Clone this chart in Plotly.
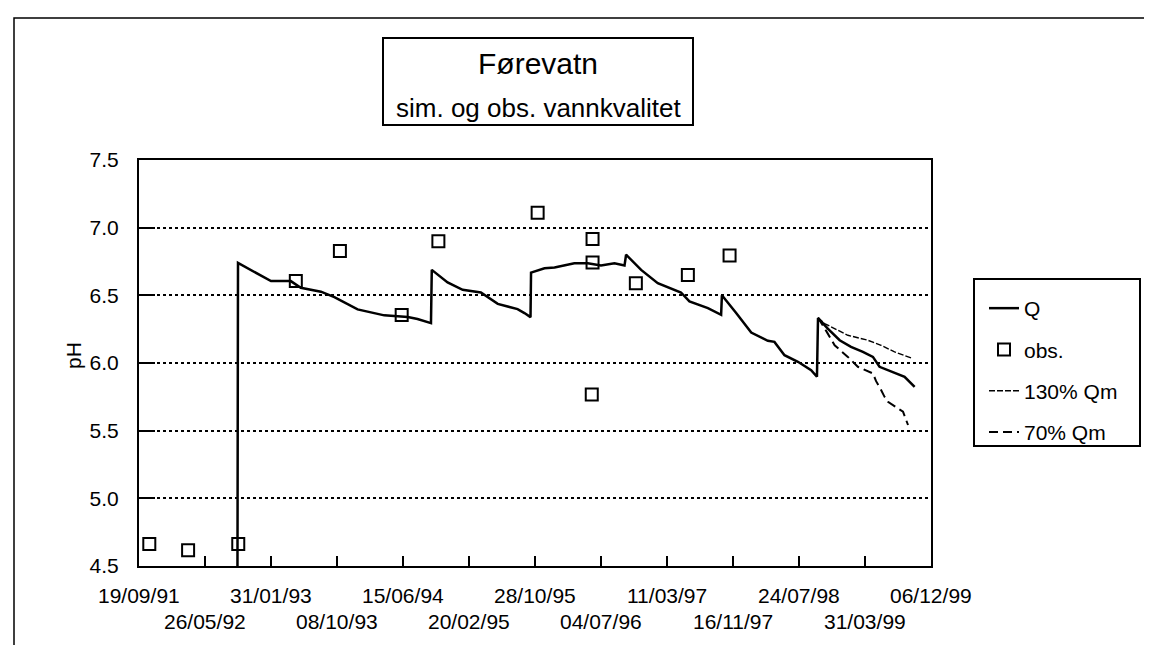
import plotly.graph_objects as go

# ---------------- data ----------------
tick_dates = ["1991-09-19", "1992-05-26", "1993-01-31", "1993-10-08", "1994-06-15",
              "1995-02-20", "1995-10-28", "1996-07-04", "1997-03-11", "1997-11-16",
              "1998-07-24", "1999-03-31", "1999-12-06"]
tick_labels = ["19/09/91", "26/05/92", "31/01/93", "08/10/93", "15/06/94", "20/02/95",
               "28/10/95", "04/07/96", "11/03/97", "16/11/97", "24/07/98", "31/03/99",
               "06/12/99"]
y_ticks = [4.5, 5.0, 5.5, 6.0, 6.5, 7.0, 7.5]

q_dates = ["1992-09-26", "1992-09-28", "1993-01-31", "1993-04-16", "1993-05-24",
           "1993-08-08", "1993-09-28", "1993-12-25", "1994-04-05", "1994-07-03",
           "1994-08-09", "1994-09-29", "1994-10-02", "1994-12-01", "1995-01-27",
           "1995-04-06", "1995-06-09", "1995-08-23", "1995-09-18", "1995-10-11",
           "1995-10-13", "1995-12-03", "1996-01-10", "1996-03-25", "1996-05-15",
           "1996-07-04", "1996-08-24", "1996-10-01", "1996-10-07", "1996-12-03",
           "1997-02-04", "1997-03-27", "1997-05-03", "1997-06-04", "1997-08-13",
           "1997-10-02", "1997-10-05", "1997-11-28", "1998-01-24", "1998-03-28",
           "1998-04-22", "1998-05-30", "1998-07-20", "1998-09-08", "1998-09-30",
           "1998-10-04", "1998-11-10", "1998-12-25", "1999-02-06", "1999-03-23",
           "1999-04-30", "1999-05-25", "1999-07-08", "1999-08-28", "1999-10-05"]
q_ph = [4.50, 6.74, 6.605, 6.605, 6.556,
        6.527, 6.487, 6.396, 6.352, 6.34,
        6.325, 6.295, 6.688, 6.595, 6.541,
        6.521, 6.437, 6.398, 6.369, 6.339,
        6.668, 6.70, 6.705, 6.737, 6.737,
        6.72, 6.737, 6.72, 6.80, 6.688,
        6.59, 6.553, 6.521, 6.455, 6.405,
        6.356, 6.50, 6.37, 6.225, 6.164,
        6.156, 6.058, 6.009, 5.947, 5.898,
        6.333, 6.254, 6.168, 6.119, 6.082,
        6.045, 5.972, 5.935, 5.898, 5.824]

q130_dates = ["1998-10-04", "1998-10-29", "1999-01-25", "1999-04-11", "1999-05-31",
              "1999-07-21", "1999-09-28"]
q130_ph = [6.333, 6.291, 6.205, 6.168, 6.131, 6.082, 6.033]

q70_dates = ["1998-10-04", "1998-10-10", "1998-11-10", "1998-12-06", "1999-01-25",
             "1999-03-04", "1999-04-30", "1999-05-12", "1999-05-31", "1999-06-13",
             "1999-06-26", "1999-08-22", "1999-09-10"]
q70_ph = [6.333, 6.316, 6.217, 6.131, 6.045, 5.972, 5.923, 5.866, 5.80, 5.75,
          5.714, 5.64, 5.542]

obs_dates = ["1991-10-28", "1992-03-23", "1992-09-29", "1993-05-05", "1993-10-19",
             "1994-06-10", "1994-10-27", "1995-11-07", "1996-06-02", "1996-06-02",
             "1996-05-30", "1996-11-13", "1997-05-29", "1997-11-03"]
obs_ph = [4.663, 4.617, 4.663, 6.605, 6.827, 6.355, 6.90, 7.11, 6.916, 6.742,
          5.767, 6.59, 6.651, 6.794]

FONT = "Arial, 'Liberation Sans', sans-serif"

fig = go.Figure()
fig.add_trace(go.Scatter(x=q_dates, y=q_ph, mode="lines", name="Q",
                         line=dict(color="black", width=2.5), legendgroup="a"))
fig.add_trace(go.Scatter(x=obs_dates, y=obs_ph, mode="markers", name="obs.",
                         marker=dict(symbol="square-open", size=12, color="black",
                                     line=dict(width=2, color="black")),
                         legendgroup="b"))
fig.add_trace(go.Scatter(x=q130_dates, y=q130_ph, mode="lines", name="130% Qm",
                         line=dict(color="black", width=1.4, dash="6px,2px"),
                         legendgroup="c"))
fig.add_trace(go.Scatter(x=q70_dates, y=q70_ph, mode="lines", name="70% Qm",
                         line=dict(color="black", width=2, dash="9px,5px"),
                         legendgroup="d"))

L, R, T, B = 131, 229, 152, 87
W, H = 1152, 645
PW, PH = W - L - R, H - T - B


def px(xp):
    return (xp - L) / PW


def py(yp):
    return (H - B - yp) / PH


fig.update_layout(
    width=W, height=H,
    margin=dict(l=L, r=R, t=T, b=B),
    paper_bgcolor="white", plot_bgcolor="white",
    font=dict(family=FONT, size=21, color="black"),
    showlegend=True,
    legend=dict(x=px(976), y=py(280), xanchor="left", yanchor="top",
                borderwidth=0, bgcolor="rgba(0,0,0,0)",
                font=dict(size=21), tracegroupgap=11, traceorder="grouped",
                itemwidth=30),
    xaxis=dict(type="date", range=[tick_dates[0], tick_dates[-1]],
               tickvals=tick_dates, ticktext=[""] * len(tick_dates),
               ticks="inside", ticklen=10, tickwidth=1.5, tickcolor="black",
               showgrid=False, zeroline=False,
               showline=True, linecolor="black", linewidth=2, mirror=True),
    yaxis=dict(range=[4.5, 7.5], tickvals=y_ticks,
               ticktext=[f"{v:.1f}" for v in y_ticks],
               ticks="inside", ticklen=16, tickwidth=2, tickcolor="black",
               ticklabelstandoff=14,
               showgrid=True, gridcolor="black", gridwidth=1.5, griddash="dot",
               zeroline=False,
               showline=True, linecolor="black", linewidth=2, mirror=True,
               tickfont=dict(size=21)),
)

annotations = []
for i, (d, lab) in enumerate(zip(tick_dates, tick_labels)):
    annotations.append(dict(x=d, y=py(587 if i % 2 == 0 else 613), xref="x", yref="paper",
                            text=lab, showarrow=False, xanchor="center", yanchor="middle",
                            font=dict(size=21)))
annotations.append(dict(x=px(65), y=py(348), xref="paper", yref="paper", text="pH",
                        textangle=-90, showarrow=False, xanchor="center",
                        yanchor="middle", font=dict(size=21)))
annotations.append(dict(x=px(530), y=py(55), xref="paper", yref="paper", text="Førevatn",
                        showarrow=False, font=dict(size=30), xanchor="center",
                        yanchor="middle"))
annotations.append(dict(x=px(530), y=py(100), xref="paper", yref="paper",
                        text="sim. og obs. vannkvalitet", showarrow=False,
                        font=dict(size=26), xanchor="center", yanchor="middle"))
fig.update_layout(annotations=annotations)

# title box
fig.add_shape(type="rect", xref="paper", yref="paper",
              x0=px(375), x1=px(685), y0=py(117), y1=py(30),
              line=dict(color="black", width=2), fillcolor="rgba(0,0,0,0)")
# legend box
fig.add_shape(type="rect", xref="paper", yref="paper",
              x0=px(966), x1=px(1132), y0=py(438), y1=py(271),
              line=dict(color="black", width=2), fillcolor="rgba(0,0,0,0)")
# outer page frame
fig.add_shape(type="rect", xref="paper", yref="paper",
              x0=px(6), x1=px(1170), y0=py(680), y1=py(10),
              line=dict(color="black", width=1.5), fillcolor="rgba(0,0,0,0)")

fig.write_html("out.html")
